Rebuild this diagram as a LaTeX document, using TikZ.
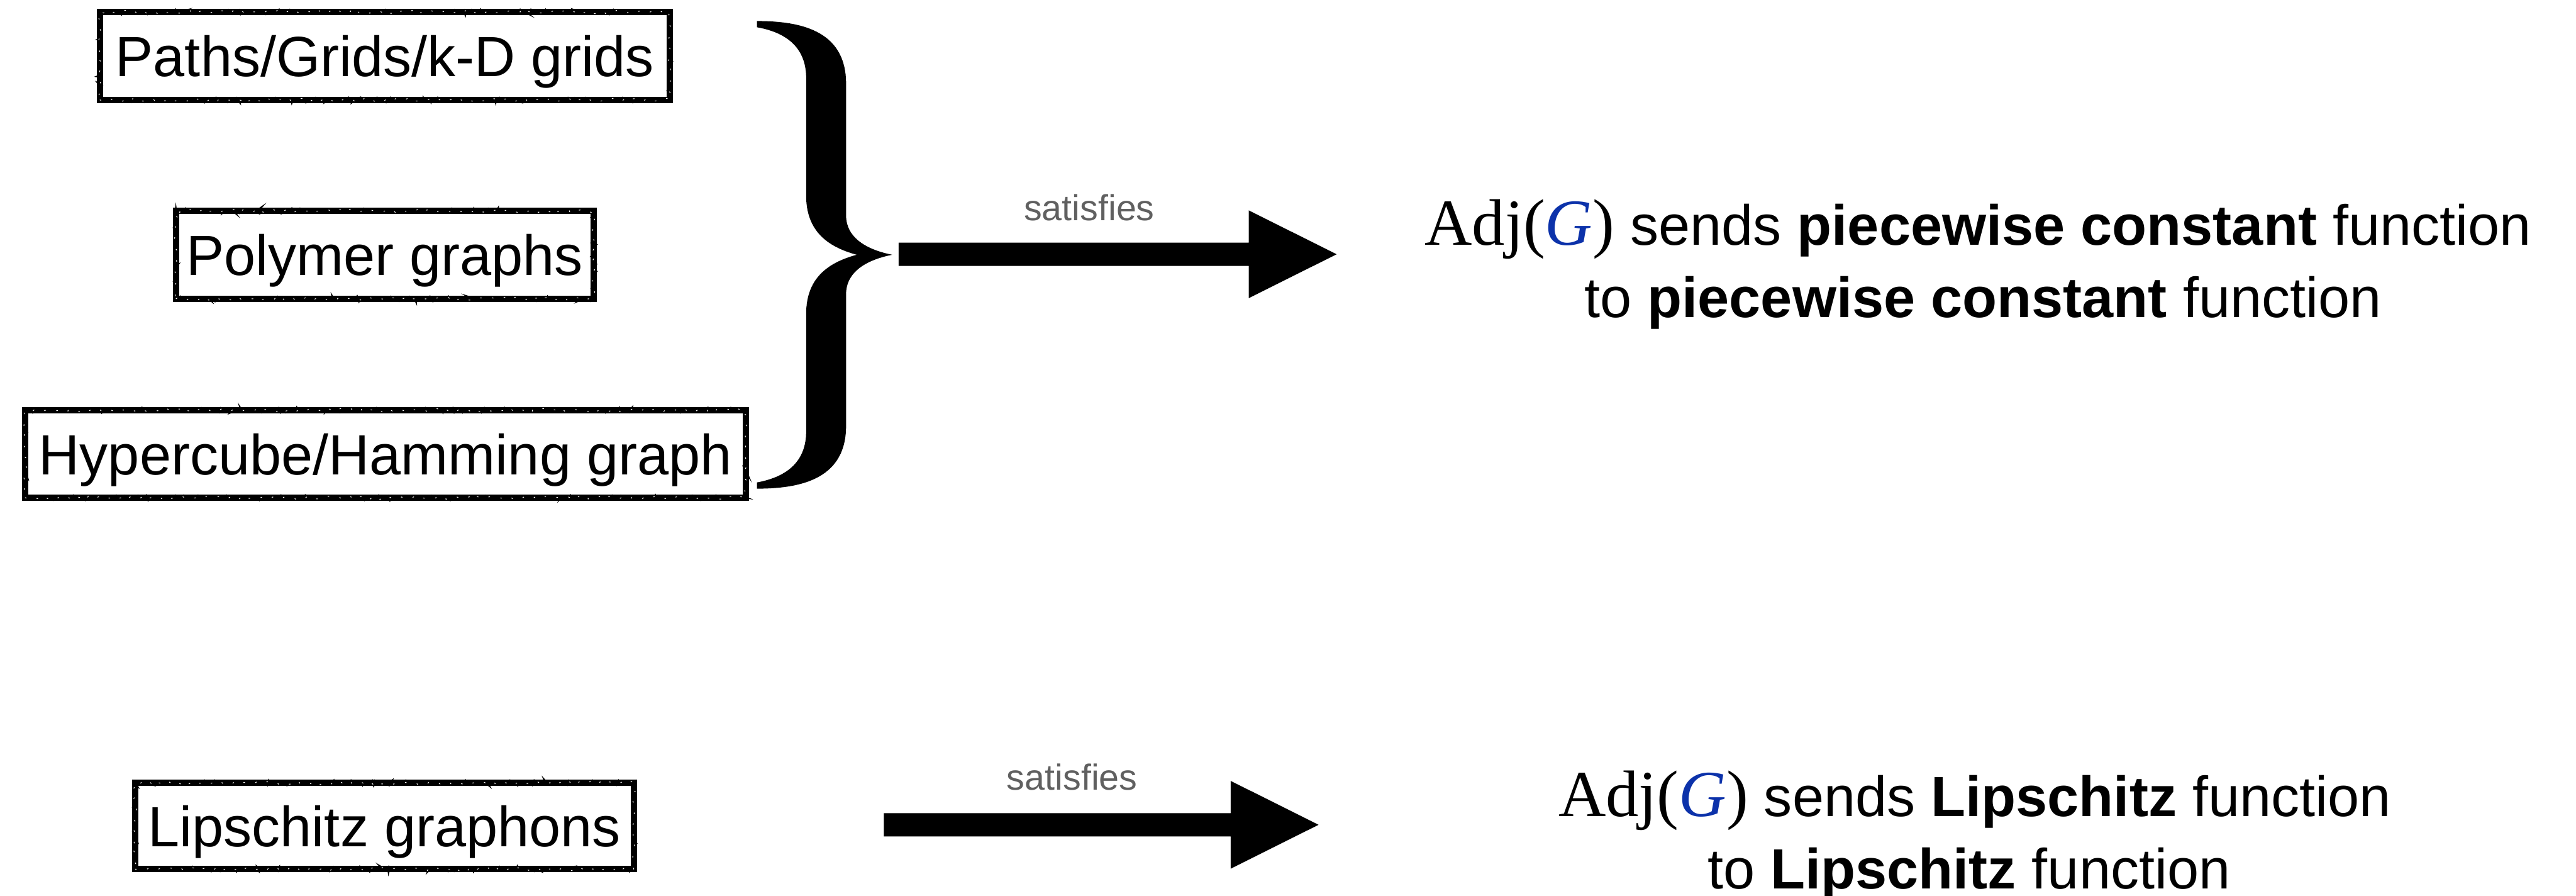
\documentclass[tikz,border=0pt]{standalone}
\usepackage{fontspec}
\setmainfont{Liberation Sans}
\newfontfamily\adjserif{Liberation Serif}
\usetikzlibrary{calc,decorations.pathmorphing}

\definecolor{adjblue}{RGB}{12,50,170}
\definecolor{labelgray}{RGB}{96,96,96}

\newcommand{\diagfont}{\fontsize{34.5}{44}\selectfont}
\newcommand{\adjop}{{\adjserif\fontsize{40}{44}\selectfont Adj(\textcolor{adjblue}{\itshape G})}}

% thick block arrow between two named coordinates
\newcommand{\blockarrow}[2]{%
  \fill ($(#1)+(0,-7.1)$) -- ($(#2)+(-53.5,-7.1)$) -- ($(#2)+(-53.5,-26.7)$) -- (#2)
        -- ($(#2)+(-53.5,26.7)$) -- ($(#2)+(-53.5,7.1)$) -- ($(#1)+(0,7.1)$) -- cycle;}

\begin{document}
\begin{tikzpicture}[x=1pt,y=-1pt,
  roughbox/.style={inner sep=0pt, text height=30pt, text depth=4.9pt, font=\diagfont,
    preaction={draw, line width=3.8pt},
    postaction={draw, line width=1.4pt, decorate,
      decoration={random steps, segment length=1.3pt, amplitude=1.1pt}},
    postaction={draw=white, line width=0.4pt, dash pattern=on 0.9pt off 6.5pt, decorate,
      decoration={random steps, segment length=1.7pt, amplitude=1pt}}},
  rtext/.style={anchor=base, inner sep=0pt, font=\diagfont},
  lbl/.style={anchor=base, inner sep=0pt, text=labelgray, font=\fontsize{22}{26}\selectfont}
]
\pgfmathsetseed{11}
\useasboundingbox (0,0) rectangle (1568,545);

% graph families
\node[roughbox, minimum width=347pt,   minimum height=53.5pt] (paths)   at (234.25,34)    {Paths/Grids/k-D grids};
\node[roughbox, minimum width=254.2pt, minimum height=53.5pt] (polymer) at (234.15,155)   {Polymer graphs};
\node[roughbox, minimum width=438.7pt, minimum height=53.2pt] (hyper)   at (234.6,276.15) {Hypercube/Hamming graph};
\node[roughbox, minimum width=303.5pt, minimum height=52.5pt] (lip)     at (234,502.5)    {Lipschitz graphons};

% curly brace collecting the three families
\fill (460.8,12.8) .. controls (490,12.8) and (515,20) .. (515,51)
  -- (515,131) .. controls (515,145) and (528,152) .. (543.1,155)
  .. controls (528,158) and (515,165) .. (515,179)
  -- (515,259) .. controls (515,290) and (490,297.3) .. (460.8,297.3)
  -- (460.8,293.5) .. controls (480,290) and (490.7,280) .. (490.7,262.5)
  -- (490.7,191) .. controls (490.7,170) and (503,160) .. (521.5,155)
  .. controls (503,150) and (490.7,140) .. (490.7,119)
  -- (490.7,47.5) .. controls (490.7,30) and (480,20) .. (460.8,16.6) -- cycle;

% conclusions
\node[rtext] (pc1) at (1204,149) {\adjop{} sends \textbf{piecewise constant} function};
\node[rtext] (pc2) at (1207,193) {to \textbf{piecewise constant} function};
\node[rtext] (lc1) at (1202,496.8) {\adjop{} sends \textbf{Lipschitz} function};
\node[rtext] (lc2) at (1198.5,540.6) {to \textbf{Lipschitz} function};

% arrows
\coordinate (a1s) at (547,154.7);
\coordinate (a1e) at (813.6,154.7);
\coordinate (a2s) at (538,501.8);
\coordinate (a2e) at (802.6,501.8);
\blockarrow{a1s}{a1e}
\blockarrow{a2s}{a2e}
\node[lbl] (sat1) at (663,134) {satisfies};
\node[lbl] (sat2) at (652.6,480.5) {satisfies};
\end{tikzpicture}
\end{document}
